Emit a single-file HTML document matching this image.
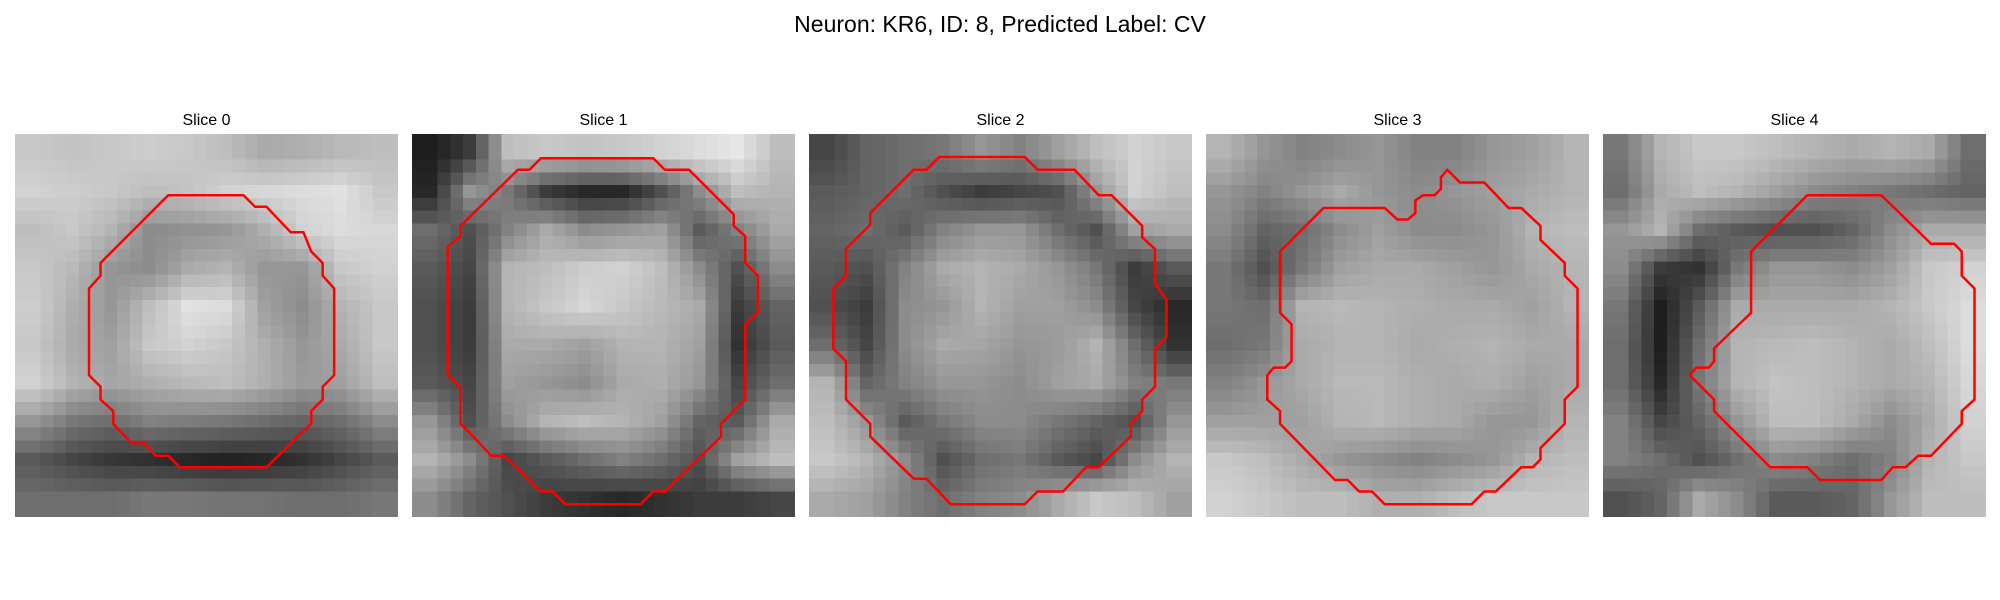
<!DOCTYPE html>
<html><head><meta charset="utf-8"><style>
body{margin:0;background:#fff;width:2000px;height:600px;position:relative;overflow:hidden;font-family:"Liberation Sans","DejaVu Sans",sans-serif;}
.sup{position:absolute;left:0;width:2000px;top:11px;text-align:center;font-size:23px;color:#000;}
.ttl{position:absolute;width:383px;text-align:center;font-size:16px;top:112px;color:#000;}
.panel{position:absolute;top:134px;width:383px;height:383px;}
.panel canvas{position:absolute;left:0;top:0;width:383px;height:383px;image-rendering:pixelated;}
.panel svg{position:absolute;left:0;top:0;width:383px;height:383px;}
</style></head><body>
<div class="sup">Neuron: KR6, ID: 8, Predicted Label: CV</div>
<div id="root"></div>
<script>
const sliceTitles=["Slice 0","Slice 1","Slice 2","Slice 3","Slice 4"];
const panelLeft=[15,412,809,1206,1603];
const img0=[[200,195,200,205,200,190,170,175,185,190],[210,205,200,190,195,210,215,220,225,200],[190,200,180,140,145,150,175,210,220,215],[200,185,150,140,170,180,150,150,200,210],[205,175,150,190,225,220,160,140,180,200],[200,170,160,200,210,200,175,150,170,200],[210,180,165,175,185,190,175,155,160,190],[150,120,110,130,125,120,110,100,110,140],[90,70,55,50,40,35,40,50,70,90],[110,110,110,120,120,115,115,110,110,120]];
const img1=[[30,60,190,200,195,200,210,220,230,190],[40,150,120,60,40,40,80,140,190,180],[110,80,130,170,140,150,160,90,130,170],[90,70,180,190,205,210,190,140,80,140],[80,60,180,200,215,200,185,170,60,100],[80,60,170,170,160,180,180,160,50,90],[90,70,160,150,140,170,175,150,70,110],[150,80,140,180,190,180,160,100,90,170],[180,140,70,90,110,130,110,80,160,190],[140,100,80,60,50,40,50,60,60,70]];
const img2=[[70,100,110,120,150,130,160,190,210,200],[90,100,110,80,60,70,80,150,210,190],[100,110,90,130,150,150,110,80,160,170],[90,80,130,170,180,170,150,120,60,90],[80,60,140,150,180,160,160,140,70,40],[110,70,140,170,165,150,155,180,110,50],[180,100,130,150,150,140,160,170,130,120],[190,150,90,120,140,140,120,100,80,150],[200,180,140,80,110,120,90,70,140,180],[170,160,130,110,130,140,170,200,190,160]];
const img3=[[180,150,130,140,150,130,130,150,160,180],[150,130,150,170,150,140,150,160,170,180],[140,100,110,140,160,140,140,150,180,190],[120,80,120,160,170,170,160,150,170,180],[120,110,180,185,180,175,170,170,160,180],[110,120,170,180,180,170,175,180,170,170],[130,150,170,185,185,175,170,175,160,170],[160,160,160,180,185,175,170,150,150,180],[200,190,170,150,140,130,140,150,180,190],[210,200,190,190,175,175,190,200,200,200]];
const img4=[[120,180,200,200,190,180,170,180,170,110],[110,170,190,180,160,140,130,120,110,100],[150,180,110,90,80,80,100,140,170,170],[140,60,50,120,150,150,140,160,200,210],[120,30,90,170,170,170,170,180,200,220],[110,30,110,180,185,190,180,170,190,220],[110,40,120,180,195,190,180,170,180,215],[130,70,100,150,190,190,170,140,170,210],[130,110,80,110,140,130,110,130,180,200],[80,100,170,140,90,90,100,150,190,190]];
const images=[img0,img1,img2,img3,img4];
const contour0=[[12.0,4.8],[17.9,4.8],[18.8,5.7],[19.7,5.7],[21.6,7.7],[22.6,7.7],[23.2,9.2],[24.1,10.1],[24.1,11.1],[25.0,12.1],[25.0,18.9],[24.1,19.8],[24.1,20.8],[23.2,21.7],[23.2,22.7],[19.7,26.1],[12.9,26.1],[12.0,25.2],[11.0,25.2],[10.1,24.2],[9.1,24.2],[7.7,22.7],[7.7,21.7],[6.7,20.8],[6.7,19.8],[5.8,18.9],[5.8,12.1],[6.7,11.1],[6.7,10.1]];
const contour1=[[10.1,1.9],[18.9,1.9],[19.8,2.8],[21.7,2.8],[25.2,6.3],[25.2,7.2],[26.1,8.0],[26.1,10.1],[27.1,11.1],[27.1,14.0],[26.1,14.9],[26.1,20.8],[24.2,22.7],[24.2,23.7],[19.8,28.0],[18.9,28.0],[17.9,29.0],[12.0,29.0],[11.0,28.0],[10.1,28.0],[7.2,25.2],[6.2,25.2],[4.8,23.7],[3.8,22.7],[3.8,19.8],[2.8,18.9],[2.8,8.8],[3.8,8.0],[3.8,7.2],[8.3,2.8],[9.2,2.8]];
const contour2=[[10.2,1.8],[16.9,1.8],[17.9,2.8],[20.8,2.8],[22.7,4.8],[23.7,4.8],[26.1,7.2],[26.1,8.1],[27.1,9.0],[27.1,11.7],[28.0,13.0],[28.0,15.9],[27.1,16.8],[27.1,19.8],[26.1,20.8],[26.1,21.7],[25.2,22.7],[25.2,23.7],[22.7,26.1],[21.7,26.1],[19.9,28.0],[17.9,28.0],[16.9,29.0],[11.1,29.0],[9.2,27.0],[8.2,27.0],[4.8,23.7],[4.8,22.7],[2.9,20.8],[2.9,17.8],[1.9,16.8],[1.9,12.1],[2.9,11.1],[2.9,9.0],[4.8,7.1],[4.8,6.2],[8.2,2.8],[9.2,2.8]];
const contour3=[[18.9,2.8],[19.9,3.8],[21.8,3.8],[23.7,5.8],[24.7,5.8],[26.2,7.2],[26.2,8.3],[28.1,10.1],[28.1,11.1],[29.1,12.1],[29.1,19.8],[28.1,20.8],[28.1,22.7],[26.2,24.6],[26.2,25.5],[25.6,26.1],[24.7,26.1],[22.7,28.0],[21.8,28.0],[20.8,29.0],[14.0,29.0],[13.0,28.0],[12.0,28.0],[11.1,27.1],[10.1,27.1],[5.8,22.7],[5.8,21.7],[4.8,20.8],[4.8,18.9],[5.3,18.3],[6.2,18.3],[6.7,17.8],[6.7,14.9],[5.8,14.0],[5.8,9.2],[9.2,5.8],[14.0,5.8],[15.0,6.7],[15.8,6.7],[16.4,6.2],[16.4,5.2],[17.0,4.8],[17.9,4.8],[18.4,4.3],[18.4,3.4]];
const contour4=[[16.0,4.8],[21.8,4.8],[25.7,8.6],[27.5,8.6],[28.1,9.2],[28.1,11.1],[29.1,12.1],[29.1,20.8],[28.1,21.7],[28.1,22.7],[25.7,25.2],[24.7,25.2],[23.7,26.1],[22.7,26.1],[21.8,27.1],[17.0,27.1],[16.0,26.1],[13.1,26.1],[8.7,21.7],[8.7,20.8],[6.8,18.9],[7.3,18.3],[8.3,18.3],[8.7,17.8],[8.7,16.8],[11.6,14.0],[11.6,9.2]];
const contours=[contour0,contour1,contour2,contour3,contour4];
const root=document.getElementById('root');
const NS='http://www.w3.org/2000/svg';
for(let i=0;i<5;i++){
  const t=document.createElement('div');t.className='ttl';t.style.left=panelLeft[i]+'px';t.textContent=sliceTitles[i];
  
  
  root.appendChild(t);
  const p=document.createElement('div');p.className='panel';p.style.left=panelLeft[i]+'px';
  
  
  const g=images[i];const n=g.length;
  const small=document.createElement('canvas');small.width=n;small.height=n;
  const sc=small.getContext('2d');
  for(let r=0;r<n;r++)for(let c=0;c<n;c++){const v=g[r][c];sc.fillStyle='rgb('+v+','+v+','+v+')';sc.fillRect(c,r,1,1);}
  const cv=document.createElement('canvas');cv.width=30;cv.height=30;
  
  
  const cc=cv.getContext('2d');cc.imageSmoothingEnabled=true;cc.drawImage(small,0,0,30,30);
  p.appendChild(cv);
  const svg=document.createElementNS(NS,'svg');svg.setAttribute('viewBox','0 0 30 30');svg.setAttribute('preserveAspectRatio','none');
  const pl=document.createElementNS(NS,'polygon');
  pl.setAttribute('points',contours[i].map(q=>q[0]+','+q[1]).join(' '));
  pl.setAttribute('fill','none');pl.setAttribute('stroke','#ff0000');pl.setAttribute('stroke-width','2.5');
  pl.setAttribute('vector-effect','non-scaling-stroke');pl.setAttribute('stroke-linejoin','round');
  
  
  svg.appendChild(pl);p.appendChild(svg);
  root.appendChild(p);
}
</script>
</body></html>
